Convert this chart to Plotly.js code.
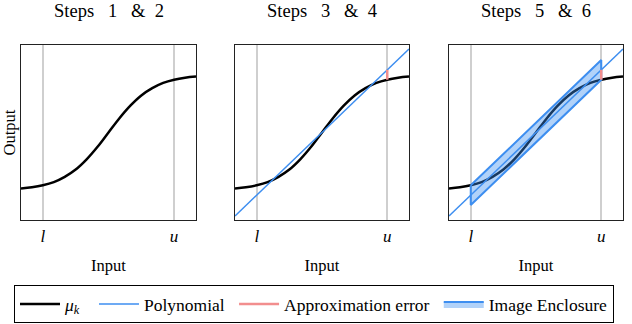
<!DOCTYPE html>
<html>
<head>
<meta charset="utf-8">
<script src="https://cdn.plot.ly/plotly-3.0.1.min.js"></script>
<style>html,body{margin:0;padding:0;background:#fff;}#chart{width:632px;height:324px;}</style>
</head>
<body>
<div id="chart"></div>
<script>
// Data
var panelTitles = ["Steps\u00a0\u00a0\u00a01\u00a0\u00a0\u00a0&\u00a0\u00a02",
                   "Steps\u00a0\u00a0\u00a03\u00a0\u00a0\u00a0&\u00a0\u00a04",
                   "Steps\u00a0\u00a0\u00a05\u00a0\u00a0\u00a0&\u00a0\u00a06"];
var tickVals = [-3, 3];
var tickLabels = ["<i>l</i>", "<i>u</i>"];
var muX = [-4, -3.5, -3, -2.5, -2, -1.5, -1, -0.5, 0, 0.5, 1, 1.5, 2, 2.5, 3, 3.5, 4];
var muY = [-0.96, -0.94, -0.905, -0.85, -0.76, -0.635, -0.46, -0.245, 0, 0.245, 0.46, 0.635, 0.76, 0.85, 0.905, 0.94, 0.96];
var polyX = [-4, 4];
var polyY = [-1.43, 1.43];
var errX = [3, 3];
var errY = [0.905, 1.074];
var encX = [-3, 3, 3, -3, -3];
var encY = [-0.905, 1.243, 0.905, -1.243, -0.905];
var seriesNames = ["<i>μ</i><sub><i>k</i></sub>\u00a0\u00a0", "Polynomial\u00a0",
                   "Approximation error\u00a0", "Image Enclosure"];

var FAM = "Liberation Serif";
var BLUE = "#3d8ef0", RED = "#f28e8e";

var traces = [];
function mu(ax, show) {
  return {x: muX, y: muY, xaxis: "x" + ax, yaxis: "y" + ax, mode: "lines",
    line: {color: "#000", width: 2.5, shape: "spline"}, name: seriesNames[0],
    showlegend: show, legendrank: 1, hoverinfo: "skip"};
}
function poly(ax, show) {
  return {x: polyX, y: polyY, xaxis: "x" + ax, yaxis: "y" + ax, mode: "lines",
    line: {color: BLUE, width: 1.5}, name: seriesNames[1], showlegend: show, legendrank: 2, hoverinfo: "skip"};
}
function err(ax, show) {
  return {x: errX, y: errY, xaxis: "x" + ax, yaxis: "y" + ax, mode: "lines",
    line: {color: RED, width: 2.5}, name: seriesNames[2], showlegend: show, legendrank: 3, hoverinfo: "skip"};
}
traces.push(mu("", true));
traces.push(mu("2", false));
traces.push(poly("2", true));
traces.push(err("2", true));
traces.push(mu("3", false));
traces.push({x: encX, y: encY, xaxis: "x3", yaxis: "y3", mode: "lines", fill: "toself",
  fillcolor: "rgba(61,142,240,0.4)", line: {color: BLUE, width: 2}, name: seriesNames[3],
  showlegend: true, legendrank: 4, hoverinfo: "skip"});
traces.push(poly("3", false));
traces.push(err("3", false));

var W = 632, H = 324;
var xdoms = [[21, 196], [235, 409], [449, 623]];
var ydom = [(H - 220) / H, (H - 45) / H];

function xaxis(i) {
  return {domain: [xdoms[i][0] / W, xdoms[i][1] / W], range: [-4, 4], anchor: i ? "y" + (i + 1) : "y",
    tickvals: tickVals, ticktext: tickLabels, ticks: "", showgrid: true, gridcolor: "#cfcfcf", gridwidth: 1.5,
    zeroline: false, showline: true, mirror: true, linecolor: "#222", linewidth: 1.3,
    tickfont: {family: FAM, size: 17, color: "#000"}, fixedrange: true,
    title: {text: "Input", font: {family: FAM, size: 16.5, color: "#000"}, standoff: 14}};
}
function yaxis(i) {
  var a = {domain: ydom, range: [-1.5, 1.5], anchor: i ? "x" + (i + 1) : "x",
    showticklabels: false, ticks: "", showgrid: false, zeroline: false, showline: true, mirror: true,
    linecolor: "#222", linewidth: 1.3, fixedrange: true};
  if (i === 0) a.title = {text: "Output", font: {family: FAM, size: 16.5, color: "#000"}, standoff: 3};
  return a;
}

var annotations = panelTitles.map(function (t, i) {
  return {text: t, xref: "paper", yref: "paper", x: (xdoms[i][0] + xdoms[i][1]) / 2 / W, y: (H - 11) / H,
    xanchor: "center", yanchor: "middle", showarrow: false, font: {family: FAM, size: 18.5, color: "#000"}};
});

var layout = {
  width: W, height: H, margin: {l: 0, r: 0, t: 0, b: 0, autoexpand: false},
  paper_bgcolor: "#fff", plot_bgcolor: "#fff",
  font: {family: FAM, color: "#000"},
  xaxis: xaxis(0), yaxis: yaxis(0), xaxis2: xaxis(1), yaxis2: yaxis(1), xaxis3: xaxis(2), yaxis3: yaxis(2),
  annotations: annotations, showlegend: true,
  legend: {orientation: "h", x: 14 / W, xanchor: "left", y: 1 / H, yanchor: "bottom",
    bordercolor: "#000", borderwidth: 1, font: {family: FAM, size: 17.5, color: "#000"},
    itemwidth: 40, traceorder: "normal", bgcolor: "#fff"}
};

Plotly.newPlot("chart", traces, layout, {displayModeBar: false});
</script>
</body>
</html>
